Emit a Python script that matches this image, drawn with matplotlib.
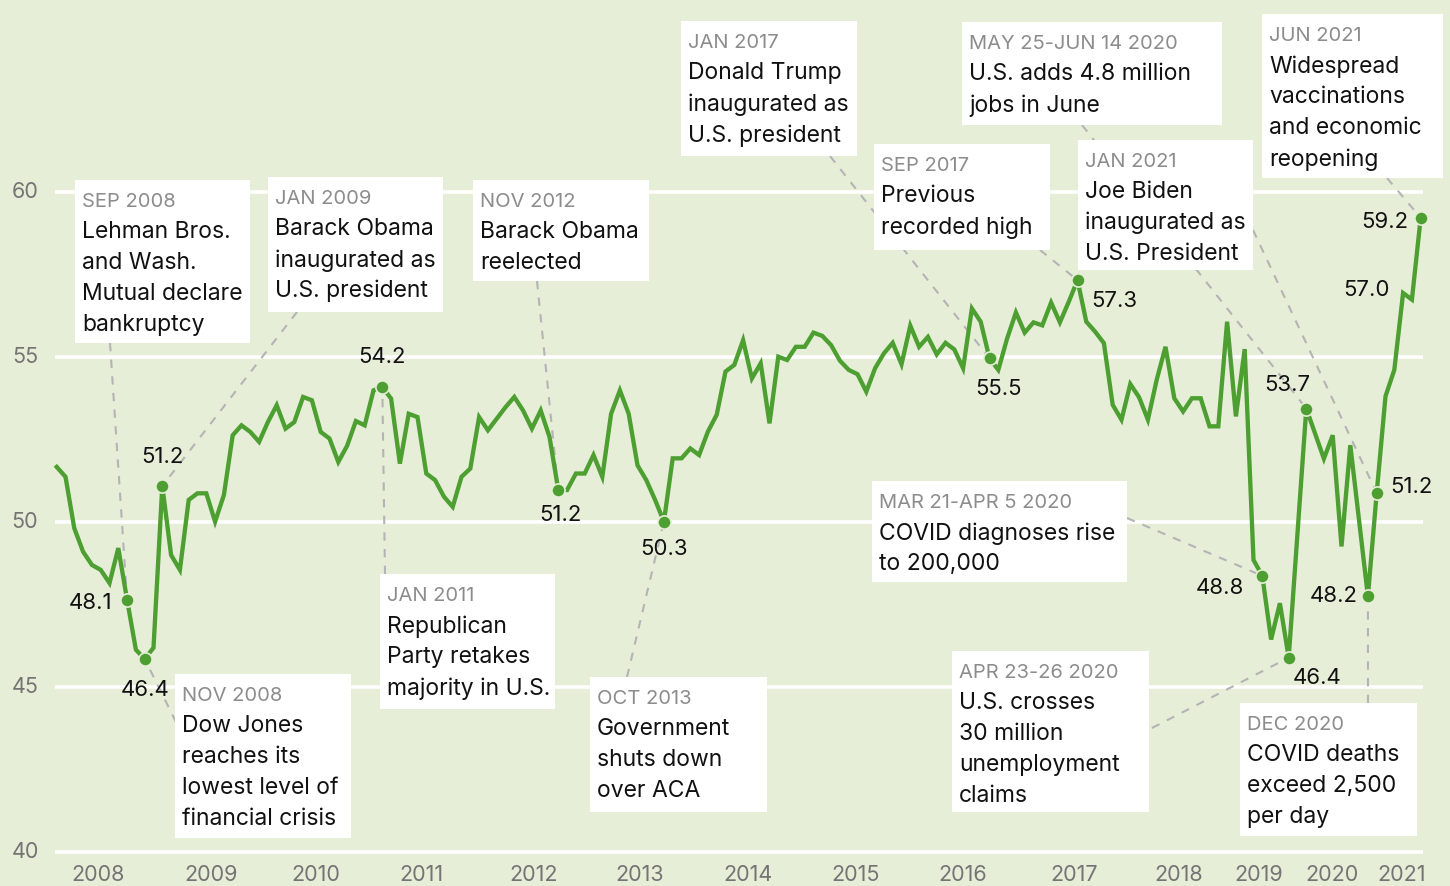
import numpy as np
import matplotlib
matplotlib.use("Agg")
import matplotlib.pyplot as plt
from matplotlib.patches import Rectangle

# monthly index values (period 0 = start of 2008)
values = [
    51.66, 51.36, 49.80, 49.09, 48.69, 48.54, 48.14, 49.20, 47.63, 46.12,
    45.84, 46.18, 51.08, 48.99, 48.54, 50.66, 50.86, 50.86, 50.00, 50.81,
    52.62, 52.92, 52.72, 52.42, 53.02, 53.53, 52.82, 53.02, 53.78, 53.68,
    52.72, 52.52, 51.81, 52.30, 53.05, 52.92, 53.98, 54.08, 53.73, 51.76,
    53.27, 53.17, 51.46, 51.26, 50.76, 50.45, 51.36, 51.61, 53.17, 52.77,
    53.12, 53.47, 53.78, 53.37, 52.82, 53.37, 52.57, 50.96, 50.96, 51.46,
    51.46, 52.02, 51.36, 53.27, 53.98, 53.27, 51.71, 51.26, 50.66, 50.00,
    51.92, 51.92, 52.22, 52.02, 52.73, 53.24, 54.55, 54.75, 55.50, 54.34,
    54.80, 52.98, 55.00, 54.90, 55.30, 55.30, 55.73, 55.63, 55.35, 54.88,
    54.60, 54.47, 53.94, 54.65, 55.10, 55.42, 54.77, 55.94, 55.30, 55.60,
    55.07, 55.42, 55.22, 54.65, 56.46, 56.06, 54.95, 54.60, 55.55, 56.34,
    55.73, 56.04, 55.95, 56.64, 56.04, 56.66, 57.32, 56.06, 55.76, 55.41,
    53.54, 53.09, 54.17, 53.77, 53.09, 54.30, 55.30, 53.74, 53.34, 53.74,
    53.74, 52.89, 52.89, 56.06, 53.19, 55.23, 48.84, 48.36, 46.43, 47.53,
    45.88,
    53.43, 51.91, 52.62, 49.25, 52.32, 47.74, 50.87, 53.80, 54.60, 56.93,
    56.73, 59.21,
]
periods = list(range(141)) + [142, 144, 145, 146, 147, 149, 150, 151, 152, 153, 154, 155]

# highlighted points: period, label
marked = [8, 10, 12, 37, 57, 69, 106, 116, 137, 140, 142, 149, 150, 155]
value_labels = {8: "48.1", 10: "46.4", 12: "51.2", 37: "54.2", 57: "51.2", 69: "50.3",
                106: "55.5", 116: "57.3", 137: "48.8", 140: "46.4", 142: "53.7",
                149: "48.2", 150: "51.2", 153: "57.0", 155: "59.2"}

year_labels = ["2008", "2009", "2010", "2011", "2012", "2013", "2014",
               "2015", "2016", "2017", "2018", "2019", "2020", "2021"]
year_pos = [4.7, 17.5, 29.5, 41.5, 54.2, 66.2, 78.6, 90.8, 103.0, 115.6, 127.5, 136.6, 144.9, 152.8]
y_ticks = [40, 45, 50, 55, 60]

events = [
    ("SEP 2008", ["Lehman Bros.", "and Wash.", "Mutual declare", "bankruptcy"], 8),
    ("JAN 2009", ["Barack Obama", "inaugurated as", "U.S. president"], 12),
    ("NOV 2012", ["Barack Obama", "reelected"], 57),
    ("NOV 2008", ["Dow Jones", "reaches its", "lowest level of", "financial crisis"], 10),
    ("JAN 2011", ["Republican", "Party retakes", "majority in U.S."], 37),
    ("OCT 2013", ["Government", "shuts down", "over ACA"], 69),
    ("JAN 2017", ["Donald Trump", "inaugurated as", "U.S. president"], 106),
    ("SEP 2017", ["Previous", "recorded high"], 116),
    ("MAY 25-JUN 14 2020", ["U.S. adds 4.8 million", "jobs in June"], 142),
    ("JAN 2021", ["Joe Biden", "inaugurated as", "U.S. President"], 150),
    ("JUN 2021", ["Widespread", "vaccinations", "and economic", "reopening"], 155),
    ("MAR 21-APR 5 2020", ["COVID diagnoses rise", "to 200,000"], 137),
    ("APR 23-26 2020", ["U.S. crosses", "30 million", "unemployment", "claims"], 140),
    ("DEC 2020", ["COVID deaths", "exceed 2,500", "per day"], 149),
]

# layout (pixels): box x0, y0, x1, y1 and where the leader leaves the box
boxes = [
    (75, 180, 250, 343, 110, 343),
    (268, 177, 443, 312, 297, 312),
    (473, 180, 649, 281, 537, 281),
    (175, 674, 351, 838, 176, 722),
    (380, 574, 555, 709, 385, 574),
    (590, 677, 767, 812, 627, 677),
    (681, 21, 857, 156, 830, 156),
    (874, 144, 1050, 250, 1040, 250),
    (962, 22, 1222, 125, 1082, 125),
    (1078, 140, 1253, 270, 1253, 230),
    (1262, 14, 1443, 178, 1387, 178),
    (872, 481, 1127, 582, 1127, 518),
    (952, 651, 1149, 812, 1152, 728),
    (1240, 703, 1417, 836, 1368, 703),
]
label_offsets = {8: (-37, 3), 10: (0, 31), 12: (0, -29), 37: (0, -30), 57: (2, 25),
                 69: (0, 27), 106: (9, 31), 116: (37, 21), 137: (-42, 12), 140: (28, 20),
                 142: (-19, -24), 149: (-34, 0), 150: (35, -6), 153: (-37, -3), 155: (-36, 4)}

BG = "#e6eed8"
GREEN = "#4c9f30"
W, H = 1450, 886
X0, DX = 56.7, 8.8
Y50, DY = 521.7, 33.0


def px(x):
    return (x - X0) / DX


def py(y):
    return 50 - (y - Y50) / DY


plt.rcParams["font.family"] = ["Inter", "DejaVu Sans"]

fig = plt.figure(figsize=(W / 100, H / 100), dpi=100, facecolor=BG)
ax = fig.add_axes([0, 0, 1, 1])
ax.set_facecolor(BG)
ax.set_xlim(px(0), px(W))
ax.set_ylim(py(H), py(0))
ax.axis("off")

ser = dict(zip(periods, values))

for t in y_ticks:
    ax.plot([px(55), px(1423)], [t, t], color="white", lw=2.6, zorder=1, solid_capstyle="butt")
    ax.text(px(25), t, str(t), ha="center", va="center", fontsize=15.5, color="#747474")
for lab, pos in zip(year_labels, year_pos):
    ax.text(pos, py(875), lab, ha="center", va="center", fontsize=15.5, color="#747474")

# annotation boxes and leaders
for (head, body, per), (x0, y0, x1, y1, lx, ly) in zip(events, boxes):
    ax.add_patch(Rectangle((px(x0), py(y1)), (x1 - x0) / DX, (y1 - y0) / DY,
                           facecolor="white", edgecolor="none", zorder=3))
    ax.text(px(x0 + 7), py(y0 + 13), head, ha="left", va="top", fontsize=14.5,
            color="#8c8c8c", zorder=4)
    for i, line in enumerate(body):
        ax.text(px(x0 + 7), py(y0 + 41 + 31 * i), line, ha="left", va="top",
                fontsize=16.5, color="#111111", zorder=4)
    ax.plot([px(lx), per], [py(ly), ser[per]], color="#b4b4b4", lw=1.5,
            ls=(0, (4, 4)), zorder=2)

ax.plot(periods, values, color=GREEN, lw=3.1, zorder=5, solid_joinstyle="miter")
ax.plot(marked, [ser[p] for p in marked], "o", color=GREEN, ms=9.5,
        mec=BG, mew=1.2, zorder=6)

for per, lab in value_labels.items():
    dx, dy = label_offsets[per]
    ax.annotate(lab, (per, ser[per]), xytext=(dx * 0.72, -dy * 0.72),
                textcoords="offset points", ha="center", va="center",
                fontsize=16, color="#111111", zorder=7)

fig.savefig("out.png", dpi=100, facecolor=BG)
